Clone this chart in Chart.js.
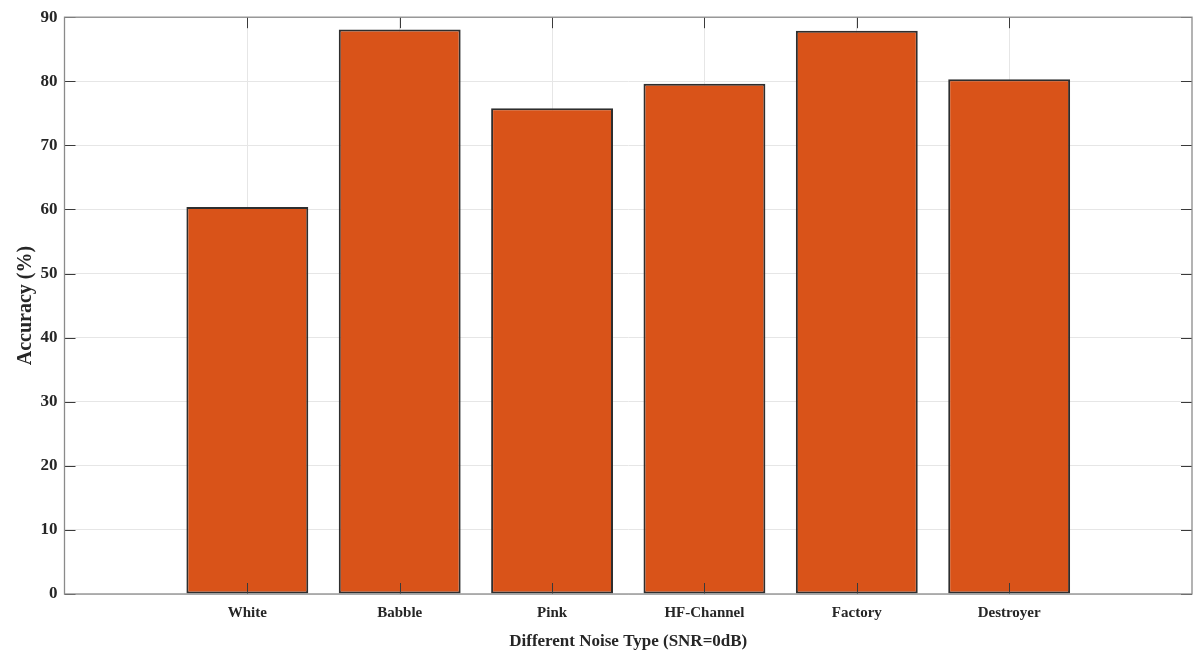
<!DOCTYPE html>
<html>
<head>
<meta charset="utf-8">
<script src="https://cdn.jsdelivr.net/npm/chart.js@4/dist/chart.umd.min.js"></script>
<style>
  html, body { margin: 0; padding: 0; background: #fff; }
  #wrap { width: 1196px; height: 652px; }
</style>
</head>
<body>
<div id="wrap"><canvas id="c" width="1196" height="652"></canvas></div>
<script>
const categories = ['White', 'Babble', 'Pink', 'HF-Channel', 'Factory', 'Destroyer'];
const accuracy = [60.4, 88.1, 75.8, 79.6, 87.9, 80.3];
const yTickValues = [0, 10, 20, 30, 40, 50, 60, 70, 80, 90];

const serif = '"Liberation Serif", "Times New Roman", serif';

const boxTicks = {
  id: 'boxTicks',
  afterDatasetsDraw(chart) {
    const { ctx, chartArea: a, scales } = chart;
    ctx.save();
    ctx.strokeStyle = '#3a3a3a';
    ctx.lineWidth = 1;
    ctx.beginPath();
    yTickValues.forEach(v => {
      const y = Math.round(scales.y.getPixelForValue(v)) + 0.5;
      ctx.moveTo(a.left, y); ctx.lineTo(a.left + 11, y);
      ctx.moveTo(a.right, y); ctx.lineTo(a.right - 11, y);
    });
    categories.forEach((c, i) => {
      const x = Math.round(scales.x.getPixelForValue(i + 1)) + 0.5;
      ctx.moveTo(x, a.top); ctx.lineTo(x, a.top + 11);
      ctx.moveTo(x, a.bottom); ctx.lineTo(x, a.bottom - 11);
    });
    ctx.stroke();
    ctx.strokeStyle = '#8a8a8a';
    ctx.lineWidth = 1.3;
    ctx.strokeRect(a.left, a.top, a.right - a.left, a.bottom - a.top);
    ctx.restore();
  }
};

new Chart(document.getElementById('c'), {
  type: 'bar',
  data: {
    datasets: [{
      data: categories.map((c, i) => ({ x: i + 1, y: accuracy[i] })),
      backgroundColor: '#D95319',
      borderColor: '#2e2e2e',
      borderWidth: 2,
      borderSkipped: false,
      barPercentage: 0.8,
      categoryPercentage: 1.0
    }]
  },
  options: {
    responsive: false,
    animation: false,
    layout: { padding: { left: 0, top: 17, right: 4, bottom: 0 } },
    plugins: { legend: { display: false }, tooltip: { enabled: false } },
    scales: {
      x: {
        type: 'linear',
        offset: false,
        min: -0.2,
        max: 7.2,
        afterBuildTicks: s => { s.ticks = categories.map((c, i) => ({ value: i + 1 })); },
        afterFit: s => { s.height = 58; },
        ticks: {
          callback: v => categories[v - 1],
          autoSkip: false,
          maxRotation: 0,
          padding: 10,
          color: '#262626',
          font: { family: serif, size: 15, weight: 'bold' }
        },
        grid: { color: '#e6e6e6', drawTicks: false, lineWidth: 1, offset: false },
        border: { display: false },
        title: {
          display: true,
          text: 'Different Noise Type (SNR=0dB)',
          color: '#262626',
          font: { family: serif, size: 17, weight: 'bold' },
          padding: { top: 8, bottom: 0 }
        }
      },
      y: {
        min: 0,
        max: 90,
        afterBuildTicks: s => { s.ticks = yTickValues.map(v => ({ value: v })); },
        afterFit: s => { s.width = 64.5; },
        ticks: {
          padding: 7,
          color: '#262626',
          font: { family: serif, size: 17, weight: 'bold' }
        },
        grid: { color: '#e6e6e6', drawTicks: false, lineWidth: 1 },
        border: { display: false },
        title: {
          display: true,
          text: 'Accuracy (%)',
          color: '#262626',
          font: { family: serif, size: 20, weight: 'bold' },
          padding: { top: 14, bottom: 4 }
        }
      }
    }
  },
  plugins: [boxTicks]
});
</script>
</body>
</html>
